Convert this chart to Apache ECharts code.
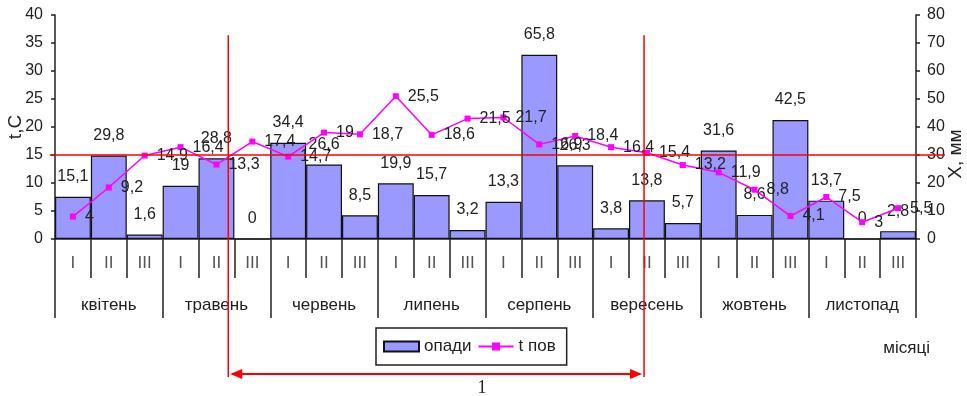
<!DOCTYPE html>
<html>
<head>
<meta charset="utf-8">
<script src="https://cdn.jsdelivr.net/npm/echarts@6/dist/echarts.min.js"></script>
<style>
  html, body { margin: 0; padding: 0; background: #ffffff; }
  #chart { width: 967px; height: 396px; }
</style>
</head>
<body>
<div id="chart"></div>
<script>
// Months of the growing season and the ten-day periods (decades) in each
const months = ['квітень', 'травень', 'червень', 'липень', 'серпень', 'вересень', 'жовтень', 'листопад'];
const decadeNames = ['I', 'II', 'III'];

// Precipitation per decade, mm (right axis)
const precipitation = [15.1, 29.8, 1.6, 19, 28.8, 0, 34.4, 26.6, 8.5, 19.9, 15.7, 3.2,
                       13.3, 65.8, 26.3, 3.8, 13.8, 5.7, 31.6, 8.6, 42.5, 13.7, 0, 2.8];
// Mean air temperature per decade, °C (left axis)
const temperature = [4, 9.2, 14.9, 16.4, 13.3, 17.4, 14.7, 19, 18.7, 25.5, 18.6, 21.5,
                     21.7, 16.9, 18.4, 16.4, 15.4, 13.2, 11.9, 8.8, 4.1, 7.5, 3, 5.5];

// Axis tick values
const tempTicks = [0, 5, 10, 15, 20, 25, 30, 35, 40];
const precipTicks = [0, 10, 20, 30, 40, 50, 60, 70, 80];

// Threshold temperature and the period above it (in decade-index units)
const thresholdTemp = 15;
const periodBounds = [4.33, 15.92];
const periodLabel = '1';

const decadeCategories = [];
months.forEach(function () { decadeNames.forEach(function (d) { decadeCategories.push(d); }); });

const fmt = function (v) { return String(v).replace('.', ','); };
const numFont = '"Liberation Sans", Arial, sans-serif';
const narrowFont = '"Liberation Sans Narrow", "Liberation Sans", Arial, sans-serif';
const ink = '#222222';

const chart = echarts.init(document.getElementById('chart'), null, { renderer: 'canvas' });

chart.setOption({
  animation: false,
  backgroundColor: '#ffffff',
  grid: { left: 55, right: 51, top: 15, bottom: 157, containLabel: false, outerBoundsMode: 'none' },
  legend: {
    data: [{ name: 'опади', icon: 'rect' }, { name: 't пов' }],
    left: 376, top: 328,
    orient: 'horizontal',
    borderColor: ink, borderWidth: 1.5,
    padding: [10, 11, 10, 7],
    itemWidth: 35, itemHeight: 10, itemGap: 6,
    textStyle: { fontFamily: narrowFont, fontSize: 17, color: ink }
  },
  xAxis: [
    {
      type: 'category',
      data: decadeCategories,
      position: 'bottom',
      axisLine: { lineStyle: { color: ink, width: 1.5 } },
      axisTick: { show: true, interval: 0, length: 39, lineStyle: { color: ink, width: 1.5 } },
      axisLabel: { interval: 0, margin: 16, fontFamily: narrowFont, fontSize: 17, color: '#555' },
      splitLine: { show: false }
    },
    {
      type: 'category',
      data: months,
      position: 'bottom',
      axisLine: { show: false },
      axisTick: { show: true, interval: 0, length: 79, lineStyle: { color: ink, width: 1.5 } },
      axisLabel: { interval: 0, margin: 58, fontFamily: narrowFont, fontSize: 17, color: ink },
      splitLine: { show: false }
    }
  ],
  yAxis: [
    {
      type: 'value',
      min: tempTicks[0], max: tempTicks[tempTicks.length - 1],
      interval: tempTicks[1] - tempTicks[0],
      name: 't,C', nameLocation: 'middle', nameRotate: 90, nameGap: 30, nameMoveOverlap: false,
      nameTextStyle: { fontFamily: numFont, fontSize: 19, color: ink },
      axisLine: { show: true, lineStyle: { color: ink, width: 1.5 } },
      axisTick: { show: true, length: 4, lineStyle: { color: ink, width: 1.5 } },
      axisLabel: { margin: 12, fontFamily: numFont, fontSize: 16, color: ink },
      splitLine: { show: false }
    },
    {
      type: 'value',
      position: 'right',
      min: precipTicks[0], max: precipTicks[precipTicks.length - 1],
      interval: precipTicks[1] - precipTicks[0],
      name: 'X, мм', nameLocation: 'middle', nameRotate: 90, nameGap: 30, nameMoveOverlap: false,
      nameTextStyle: { fontFamily: numFont, fontSize: 19, color: ink, padding: [0, 54, 0, 0] },
      axisLine: { show: true, lineStyle: { color: ink, width: 1.5 } },
      axisTick: { show: true, length: 4, lineStyle: { color: ink, width: 1.5 } },
      axisLabel: { margin: 11, fontFamily: numFont, fontSize: 16, color: ink },
      splitLine: { show: false }
    }
  ],
  series: [
    {
      name: 'опади',
      type: 'bar',
      xAxisIndex: 0, yAxisIndex: 1,
      data: precipitation,
      barCategoryGap: '0%',
      itemStyle: { color: '#9999ff', borderColor: '#111111', borderWidth: 1.2 },
      label: {
        show: true, position: 'top', distance: 12,
        formatter: function (p) { return fmt(p.value); },
        fontFamily: numFont, fontSize: 16, color: ink
      },
      z: 2
    },
    {
      name: 't пов',
      type: 'line',
      xAxisIndex: 0, yAxisIndex: 0,
      data: temperature,
      color: '#ff00ff',
      lineStyle: { color: '#ff00ff', width: 1.5 },
      symbol: 'rect', symbolSize: 6,
      itemStyle: { color: '#ff00ff' },
      label: {
        show: true, position: 'right', distance: 9,
        formatter: function (p) { return fmt(p.value); },
        fontFamily: numFont, fontSize: 16, color: ink
      },
      z: 3
    }
  ]
});

// Annotation: threshold line, the period above it and its span arrow,
// all positioned from the chart's own axes.
function drawAnnotations() {
  const x0 = chart.convertToPixel({ xAxisIndex: 0 }, 0);
  const x23 = chart.convertToPixel({ xAxisIndex: 0 }, decadeCategories.length - 1);
  const step = (x23 - x0) / (decadeCategories.length - 1);
  const xAt = function (i) { return x0 + step * i; };
  const yT = function (v) { return chart.convertToPixel({ yAxisIndex: 0 }, v); };

  const red = '#ff0000';
  const yBase = yT(0);
  const yThr = yT(thresholdTemp);
  const xa = xAt(periodBounds[0]);
  const xb = xAt(periodBounds[1]);
  const yTop = yT(36.4);
  const yBottom = yBase + 138;
  const yArrow = yBase + 135;
  const head = 12, half = 5;

  chart.setOption({
    graphic: [
      { type: 'line', z: 100, silent: true,
        shape: { x1: xAt(-0.5) - 5, y1: yThr, x2: xAt(decadeCategories.length - 0.5) + 29, y2: yThr },
        style: { stroke: red, lineWidth: 1.5 } },
      { type: 'line', z: 100, silent: true,
        shape: { x1: xa, y1: yTop, x2: xa, y2: yBottom },
        style: { stroke: red, lineWidth: 1.5 } },
      { type: 'line', z: 100, silent: true,
        shape: { x1: xb, y1: yTop, x2: xb, y2: yBottom },
        style: { stroke: red, lineWidth: 1.5 } },
      { type: 'line', z: 100, silent: true,
        shape: { x1: xa + 4, y1: yArrow, x2: xb - 4, y2: yArrow },
        style: { stroke: red, lineWidth: 2 } },
      { type: 'polygon', z: 100, silent: true,
        shape: { points: [[xa + 2, yArrow], [xa + 2 + head, yArrow - half], [xa + 2 + head, yArrow + half]] },
        style: { fill: red } },
      { type: 'polygon', z: 100, silent: true,
        shape: { points: [[xb - 2, yArrow], [xb - 2 - head, yArrow - half], [xb - 2 - head, yArrow + half]] },
        style: { fill: red } },
      { type: 'text', z: 100, silent: true,
        x: xAt(11.4), y: yArrow + 14,
        style: { text: periodLabel, font: '18px "Liberation Serif", "Times New Roman", serif',
                 fill: ink, align: 'center', verticalAlign: 'middle' } },
      { type: 'text', z: 100, silent: true,
        x: xAt(decadeCategories.length - 0.5) + 14, y: yBase + 109,
        style: { text: 'місяці', font: '17px ' + narrowFont,
                 fill: ink, align: 'right', verticalAlign: 'middle' } }
    ]
  });
}
drawAnnotations();
</script>
</body>
</html>
